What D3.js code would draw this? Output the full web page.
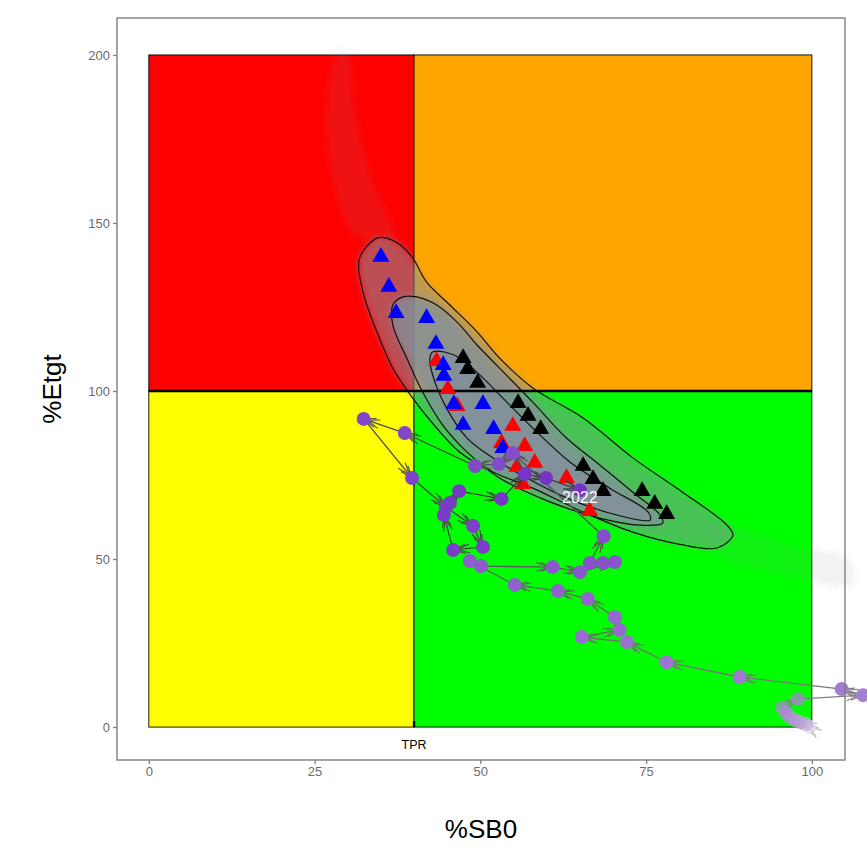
<!DOCTYPE html>
<html>
<head>
<meta charset="utf-8">
<script src="https://cdn.jsdelivr.net/npm/d3@7"></script>
<style>
  body { margin: 0; background: #fff; }
  text { font-family: "Liberation Sans", Arial, sans-serif; }
</style>
</head>
<body>
<svg id="chart" width="867" height="867"></svg>
<script>
// axis ticks
const xTicks = [0, 25, 50, 75, 100];
const yTicks = [0, 50, 100, 150, 200];

// kobe quadrants (%SB0 range, %Etgt range)
const zoneX0 = [0, 40, 0, 40];
const zoneX1 = [40, 100, 40, 100];
const zoneY0 = [100, 100, 0, 0];
const zoneY1 = [200, 200, 100, 100];
const zoneFill = ["#ff0000", "#ffa500", "#ffff00", "#00ff00"];

// density contours of the posterior cloud (outer -> inner)
const outerX = [34.4, 31.8, 32.3, 34.4, 36.8, 39.8, 43.4, 46.9, 51.9, 57.9, 65.5, 73.0, 80.5, 85.7, 88.1, 87.2, 80.5, 73.0, 65.5, 57.9, 52.9, 49.5, 45.4, 41.9, 39.8, 37.9, 35.9];
const outerY = [145.5, 139.6, 129.5, 117.6, 106.8, 97.9, 89.0, 81.8, 75.9, 71.1, 64.0, 58.0, 54.2, 53.3, 57.1, 60.1, 69.9, 80.1, 92.0, 100.9, 109.8, 117.6, 125.6, 132.4, 139.6, 143.5, 145.5];
const midX = [38.3, 36.8, 36.8, 38.9, 41.3, 44.3, 48.0, 52.9, 60.5, 68.0, 74.1, 77.5, 77.1, 73.0, 68.0, 63.0, 57.9, 52.9, 49.5, 46.5, 43.4, 40.4];
const midY = [128.0, 125.6, 119.6, 109.8, 99.7, 89.9, 81.8, 74.1, 67.0, 62.2, 60.1, 60.7, 63.1, 69.9, 78.0, 86.0, 96.7, 106.8, 113.7, 120.5, 125.6, 128.0];
const innerX = [42.8, 42.4, 42.8, 44.9, 48.0, 51.9, 57.0, 63.0, 70.6, 75.6, 75.3, 69.5, 63.5, 58.2, 53.7, 49.9, 46.9, 44.6];
const innerY = [111.6, 109.8, 104.8, 94.9, 86.0, 80.1, 74.1, 68.2, 63.1, 61.6, 64.0, 71.1, 78.9, 88.4, 97.3, 104.8, 109.8, 111.6];

// sparse tails of the cloud
const tailX = [28.5, 26.7, 28.1, 31.1, 37.1, 33.7, 31.1, 30.0];
const tailY = [200.9, 180.7, 159.8, 146.4, 144.9, 162.8, 183.6, 200.9];
const tipX = [86.1, 96.7, 105.7, 106.0, 96.7, 86.1];
const tipY = [60.1, 54.2, 49.7, 42.3, 45.2, 51.2];

// projected states (triangles)
const redX = [43.4, 45.1, 46.5, 54.9, 53.2, 56.7, 58.2, 55.5, 56.4, 63.0, 66.5];
const redY = [109.2, 100.9, 95.8, 89.9, 84.8, 83.9, 78.9, 77.7, 72.6, 74.4, 64.6];
const blueX = [35.0, 36.2, 37.3, 41.9, 43.3, 44.4, 44.5, 46.0, 50.4, 47.4, 52.0, 53.4];
const blueY = [140.2, 131.3, 123.5, 122.0, 114.3, 108.0, 104.8, 96.4, 96.4, 90.2, 89.0, 83.3];
const blackX = [47.4, 48.1, 49.6, 55.7, 57.2, 59.1, 65.5, 67.0, 68.5, 74.4, 76.3, 78.1];
const blackY = [110.1, 106.8, 102.7, 96.7, 92.9, 89.0, 78.0, 74.1, 70.5, 70.5, 66.7, 63.7];

// historical trajectory, oldest -> newest
const trajX = [99.7, 99.1, 98.2, 97.4, 96.7, 96.1, 95.5, 97.9, 107.7, 104.5, 89.1, 78.1, 72.1, 65.3, 71.0, 70.3, 66.2, 61.7, 55.2, 48.4, 50.1, 60.9, 65.0, 70.3, 68.5, 66.5, 68.6, 54.9, 52.8, 49.2, 38.6, 32.4, 39.7, 44.8, 48.9, 50.4, 45.9, 44.5, 45.4, 46.8, 53.2, 56.7, 59.9, 65.0];
const trajY = [0.0, 0.9, 1.5, 2.1, 3.0, 4.2, 5.7, 8.3, 9.5, 11.3, 14.9, 19.3, 25.3, 26.8, 28.9, 32.7, 38.1, 40.5, 42.3, 49.4, 47.9, 47.6, 46.1, 49.1, 48.8, 48.8, 56.8, 81.5, 78.3, 77.7, 87.5, 91.7, 74.1, 65.5, 59.8, 53.6, 52.7, 63.1, 66.7, 70.2, 67.9, 75.3, 74.1, 70.5];
const lastYear = "2022";

const svg = d3.select("#chart");
const x = d3.scaleLinear().domain([-4.8, 105]).range([117, 845]);
const y = d3.scaleLinear().domain([-9.8, 211]).range([760, 18]);

const defs = svg.append("defs");
defs.append("filter").attr("id", "blur").attr("x", "-20%").attr("y", "-20%")
    .attr("width", "140%").attr("height", "140%")
    .append("feGaussianBlur").attr("stdDeviation", 3);

// quadrants
svg.append("g").selectAll("rect")
    .data(zoneFill)
    .enter().append("rect")
    .attr("x", (d, i) => x(zoneX0[i]))
    .attr("y", (d, i) => y(zoneY1[i]))
    .attr("width", (d, i) => x(zoneX1[i]) - x(zoneX0[i]))
    .attr("height", (d, i) => y(zoneY0[i]) - y(zoneY1[i]))
    .attr("fill", d => d)
    .attr("stroke", "#000")
    .attr("stroke-width", 0.9);

const toPts = (xs, ys) => xs.map((v, i) => [x(v), y(ys[i])]);
const closed = d3.line().curve(d3.curveCatmullRomClosed.alpha(0.5));

// posterior cloud
const cloud = svg.append("g").attr("filter", "url(#blur)");
[[tailX, tailY, 0.12], [tipX, tipY, 0.12], [outerX, outerY, 0.55], [midX, midY, 0.8], [innerX, innerY, 0.95]]
    .forEach(([xs, ys, op]) => {
        cloud.append("path")
            .attr("d", closed(toPts(xs, ys)))
            .attr("fill", "#83909b")
            .attr("fill-opacity", op);
    });

// contours
svg.append("g").selectAll("path")
    .data([[outerX, outerY], [midX, midY], [innerX, innerY]])
    .enter().append("path")
    .attr("d", d => closed(toPts(d[0], d[1])))
    .attr("fill", "none")
    .attr("stroke", "#111")
    .attr("stroke-width", 1.2);

// target reference line
svg.append("line")
    .attr("x1", x(0)).attr("x2", x(100))
    .attr("y1", y(100)).attr("y2", y(100))
    .attr("stroke", "#000").attr("stroke-width", 2.6);

svg.append("line")
    .attr("x1", x(40)).attr("x2", x(40))
    .attr("y1", y(0)).attr("y2", y(1.8))
    .attr("stroke", "#000").attr("stroke-width", 2.4);

// triangles
const tri = d3.symbol().type(d3.symbolTriangle).size(125);
[[redX, redY, "#ff0000"], [blueX, blueY, "#0000ff"], [blackX, blackY, "#000000"]]
    .forEach(([xs, ys, col]) => {
        svg.append("g").selectAll("path")
            .data(xs)
            .enter().append("path")
            .attr("d", tri)
            .attr("transform", (d, i) => `translate(${x(d)},${y(ys[i]) + 1})`)
            .attr("fill", col);
    });

// trajectory
const n = trajX.length;
const shade = i => Math.pow(i / (n - 1), 0.35);
const dotCol = i => d3.interpolateRgb("#e2dde8", "#7433c4")(shade(i));
const lineCol = i => d3.interpolateRgb("#d2d2d2", "#3c3c3c")(shade(i));

const traj = svg.append("g");
for (let i = 1; i < n; i++) {
    const x0 = x(trajX[i - 1]), y0 = y(trajY[i - 1]);
    const x1 = x(trajX[i]), y1 = y(trajY[i]);
    const a = Math.atan2(y1 - y0, x1 - x0);
    const col = lineCol(i);
    traj.append("line")
        .attr("x1", x0).attr("y1", y0).attr("x2", x1).attr("y2", y1)
        .attr("stroke", col).attr("stroke-width", 1.3);
    // open arrow heads (doubled like the original)
    [0, 4].forEach(off => {
        const tx = x1 - off * Math.cos(a), ty = y1 - off * Math.sin(a);
        const len = 13, spread = 0.35;
        const p = [
            [tx - len * Math.cos(a - spread), ty - len * Math.sin(a - spread)],
            [tx, ty],
            [tx - len * Math.cos(a + spread), ty - len * Math.sin(a + spread)]
        ];
        traj.append("path")
            .attr("d", d3.line()(p))
            .attr("fill", "none")
            .attr("stroke", col).attr("stroke-width", 1.1);
    });
}
traj.selectAll("circle")
    .data(trajX)
    .enter().append("circle")
    .attr("cx", d => x(d))
    .attr("cy", (d, i) => y(trajY[i]))
    .attr("r", 7)
    .attr("fill", (d, i) => dotCol(i))
    .attr("fill-opacity", (d, i) => i < 8 ? 0.75 : 1);

svg.append("text")
    .attr("x", x(trajX[n - 1]))
    .attr("y", y(trajY[n - 1]) + 13)
    .attr("text-anchor", "middle")
    .attr("fill", "#fff")
    .style("font-size", "16px")
    .text(lastYear);

svg.append("text")
    .attr("x", x(40)).attr("y", y(-6.5))
    .attr("text-anchor", "middle")
    .attr("fill", "#000")
    .style("font-size", "12.5px")
    .text("TPR");

// panel border
svg.append("rect")
    .attr("x", x(-4.8)).attr("y", y(211))
    .attr("width", x(105) - x(-4.8)).attr("height", y(-9.8) - y(211))
    .attr("fill", "none").attr("stroke", "#7f7f7f").attr("stroke-width", 1.4);

// axes
const xAxis = svg.append("g")
    .attr("transform", `translate(0,${y(-9.8)})`)
    .call(d3.axisBottom(x).tickValues(xTicks).tickSize(4).tickPadding(3));
const yAxis = svg.append("g")
    .attr("transform", `translate(${x(-4.8)},0)`)
    .call(d3.axisLeft(y).tickValues(yTicks).tickSize(4).tickPadding(3));
[xAxis, yAxis].forEach(g => {
    g.select(".domain").remove();
    g.selectAll(".tick line").attr("stroke", "#7f7f7f").attr("stroke-width", 1.3);
    g.selectAll(".tick text").attr("fill", "#6b6b6b")
        .style("font-size", "13px")
        .style("font-family", "'Liberation Sans', Arial, sans-serif");
});

svg.append("text")
    .attr("x", (x(-4.8) + x(105)) / 2).attr("y", 838)
    .attr("text-anchor", "middle")
    .style("font-size", "26px")
    .text("%SB0");

svg.append("text")
    .attr("transform", `translate(61,${(y(-9.8) + y(211)) / 2}) rotate(-90)`)
    .attr("text-anchor", "middle")
    .style("font-size", "26px")
    .text("%Etgt");
</script>
</body>
</html>
